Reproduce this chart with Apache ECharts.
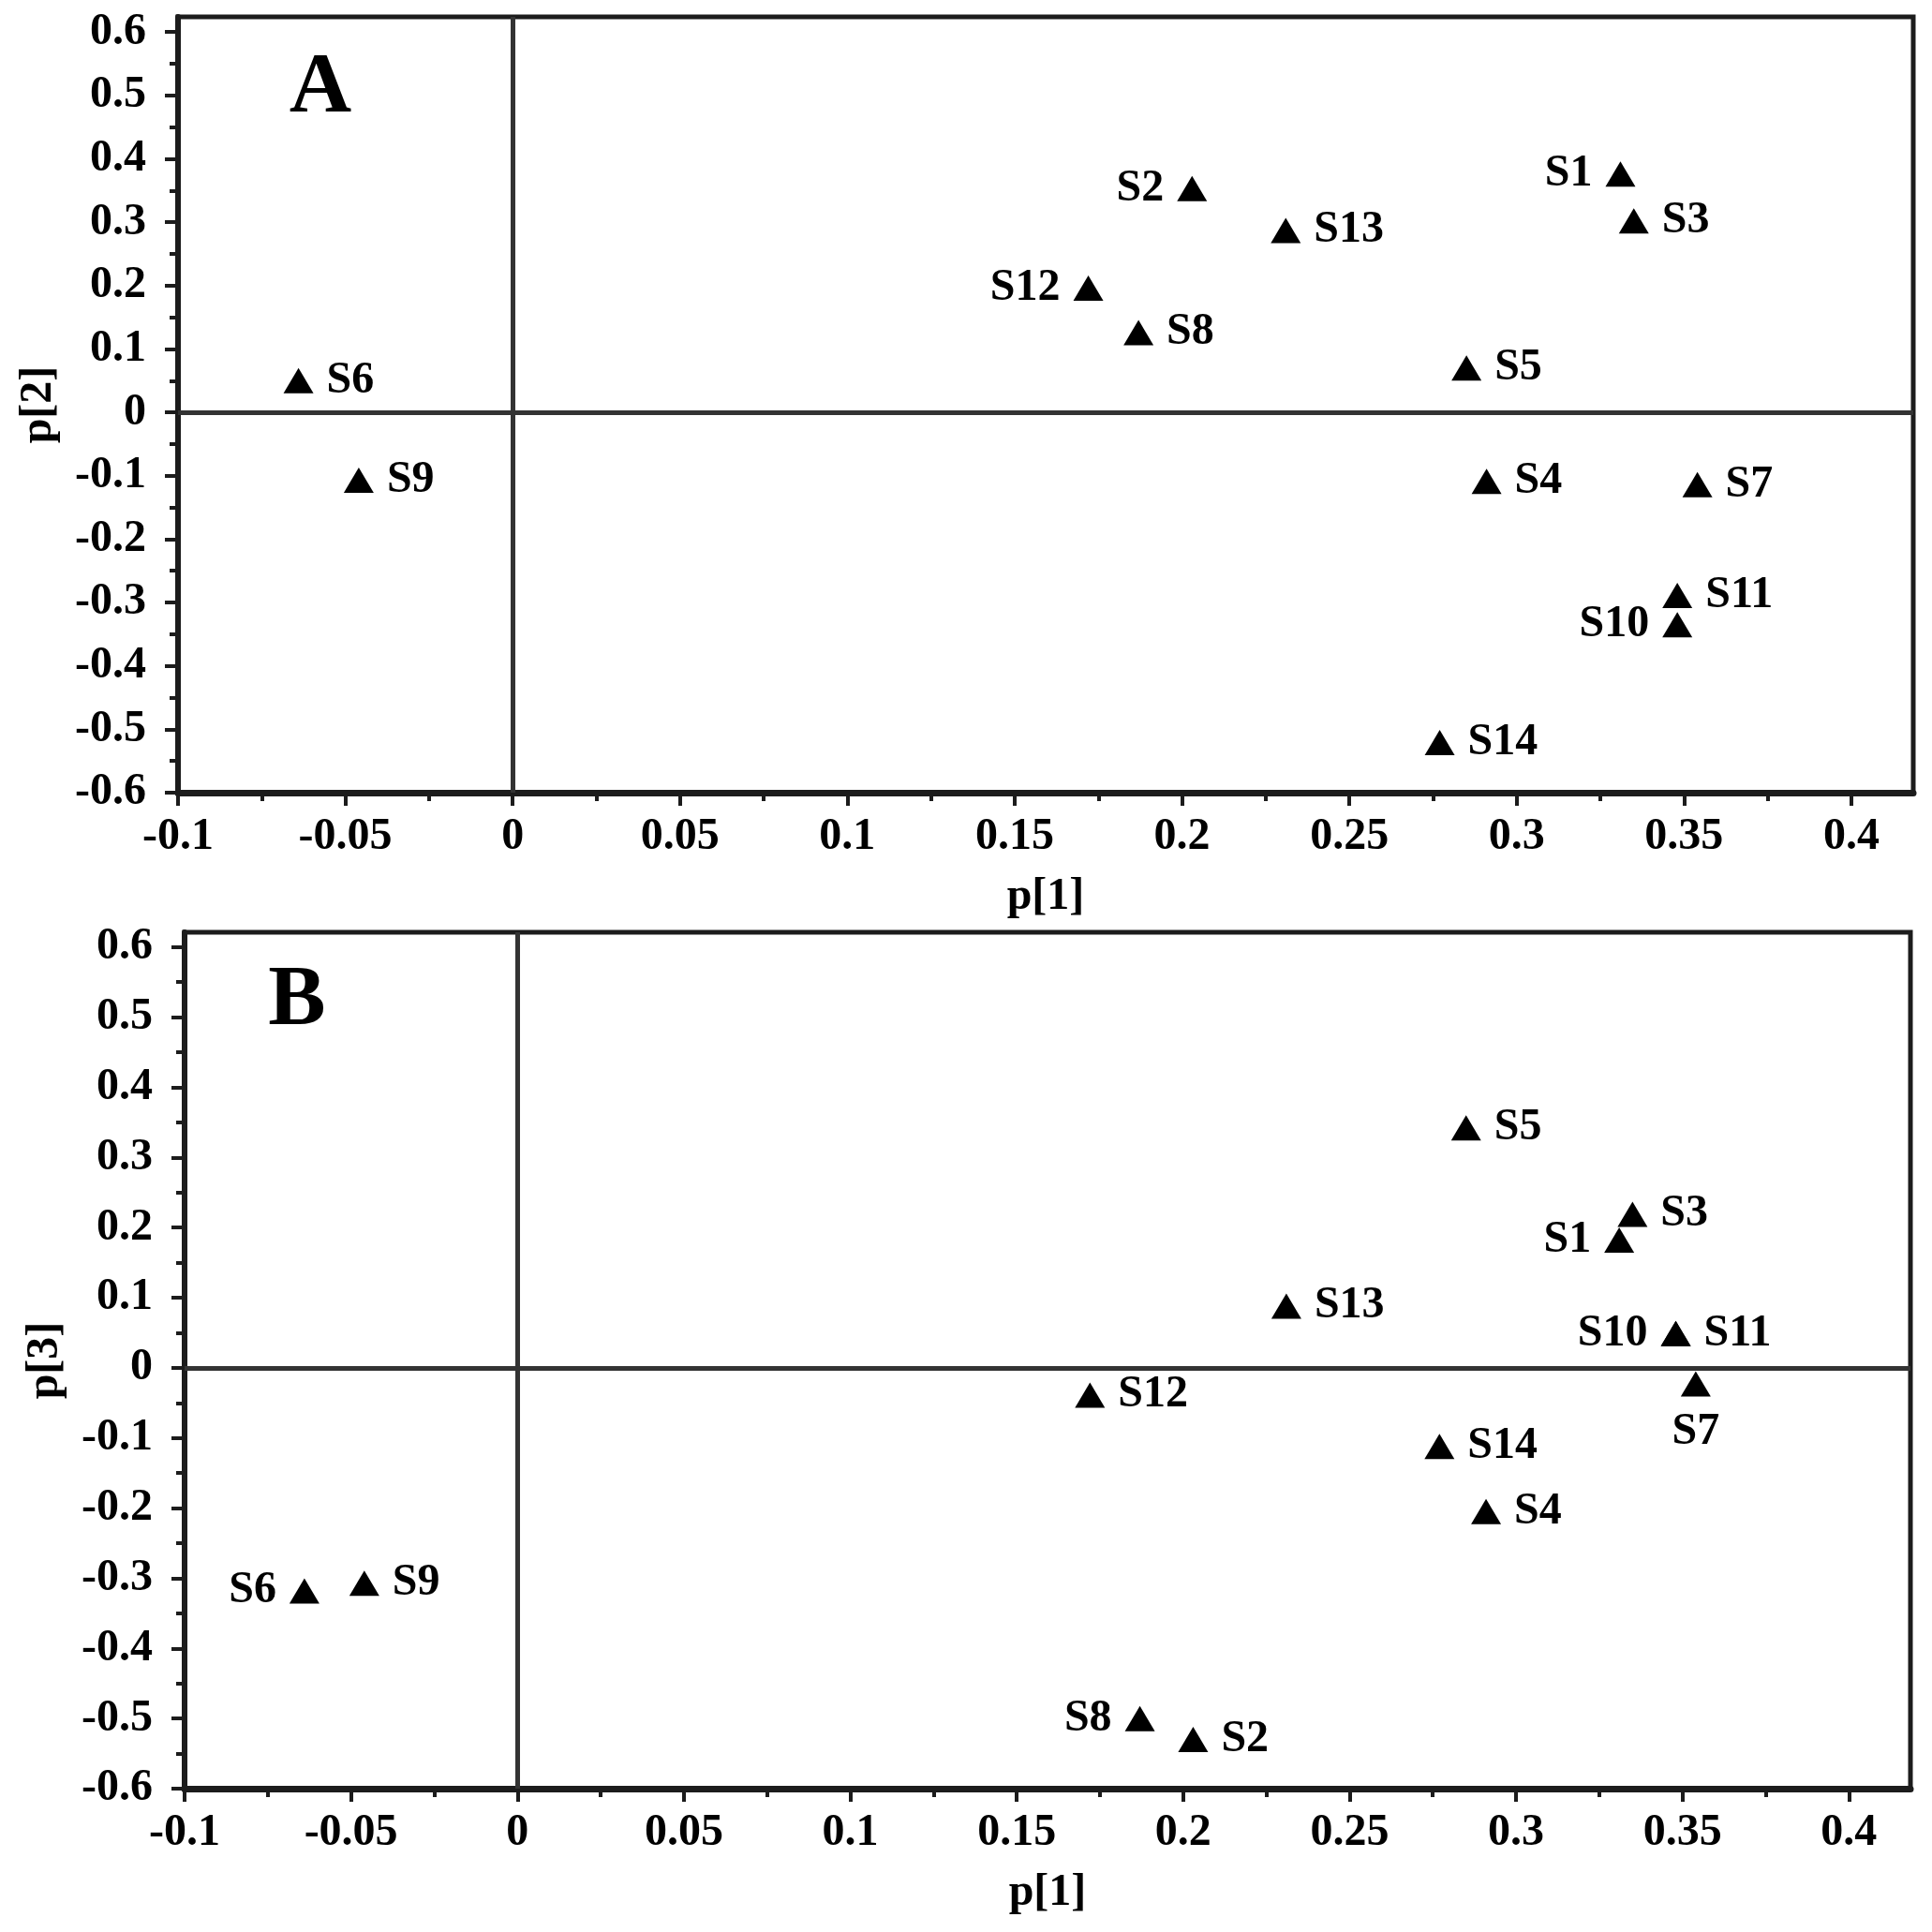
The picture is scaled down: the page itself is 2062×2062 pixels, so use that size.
<!DOCTYPE html>
<html>
<head>
<meta charset="utf-8">
<title>PCA loadings p[1]/p[2], p[1]/p[3]</title>
<script src="https://cdn.jsdelivr.net/npm/echarts/dist/echarts.min.js"></script>
<style>
  html, body { margin: 0; padding: 0; background: #fff; }
  #chart { width: 2062px; height: 2062px; }
</style>
</head>
<body>
<div id="chart"></div>
<script>
// sample names and loadings
var names = ['S1', 'S2', 'S3', 'S4', 'S5', 'S6', 'S7', 'S8', 'S9', 'S10', 'S11', 'S12', 'S13', 'S14'];
var p1 = [0.331, 0.203, 0.335, 0.291, 0.285, -0.064, 0.354, 0.187, -0.046, 0.348, 0.348, 0.172, 0.231, 0.277];
var p2 = [0.376, 0.353, 0.302, -0.109, 0.070, 0.050, -0.114, 0.126, -0.107, -0.335, -0.289, 0.196, 0.287, -0.521];
var p3 = [0.182, -0.530, 0.219, -0.205, 0.342, -0.318, -0.023, -0.500, -0.307, 0.049, 0.049, -0.039, 0.088, -0.112];

// tick values
var xMajor = [-0.1, -0.05, 0, 0.05, 0.1, 0.15, 0.2, 0.25, 0.3, 0.35, 0.4];
var xMinor = [-0.075, -0.025, 0.025, 0.075, 0.125, 0.175, 0.225, 0.275, 0.325, 0.375];
var yMajor = [-0.6, -0.5, -0.4, -0.3, -0.2, -0.1, 0, 0.1, 0.2, 0.3, 0.4, 0.5, 0.6];
var yMinor = [-0.55, -0.45, -0.35, -0.25, -0.15, -0.05, 0.05, 0.15, 0.25, 0.35, 0.45, 0.55];

// where each point label sits in panel A / panel B
var labelPosA = ['left', 'left', 'right', 'right', 'right', 'right', 'right', 'right', 'right', 'left', 'right', 'left', 'right', 'right'];
var labelPosB = ['left', 'right', 'right', 'right', 'right', 'left', 'bottom', 'left', 'right', 'left', 'right', 'right', 'right', 'right'];

var FONT = '"Liberation Serif", "Times New Roman", serif';
var INK = '#1c1c1c';
var textStyle = { fontFamily: FONT, fontWeight: 'bold', fontSize: 48, color: '#000' };

function fmt(v) {
    return String(+v.toFixed(3));
}

function majorX(grid, name) {
    return {
        type: 'value', gridIndex: grid, position: 'bottom',
        min: -0.1, max: 0.4185,
        name: name, nameLocation: 'middle', nameGap: 88, nameTextStyle: textStyle,
        axisLine: { show: true, onZero: false, lineStyle: { color: INK, width: 7 } },
        axisTick: { show: true, length: 14, customValues: xMajor, lineStyle: { color: INK, width: 4 } },
        axisLabel: Object.assign({ margin: 24, customValues: xMajor, formatter: fmt }, textStyle),
        splitLine: { show: false }
    };
}

function minorX(grid) {
    return {
        type: 'value', gridIndex: grid, position: 'bottom',
        min: -0.1, max: 0.4185,
        axisLine: { show: false, onZero: false },
        axisTick: { show: true, length: 9, customValues: xMinor, lineStyle: { color: INK, width: 4 } },
        axisLabel: { show: false },
        splitLine: { show: false }
    };
}

function majorY(grid, name, max) {
    return {
        type: 'value', gridIndex: grid, position: 'left',
        min: -0.6, max: max,
        name: name, nameLocation: 'middle', nameGap: 124, nameTextStyle: textStyle,
        axisLine: { show: true, onZero: false, lineStyle: { color: INK, width: 6 } },
        axisTick: { show: true, length: 14, customValues: yMajor, lineStyle: { color: INK, width: 4 } },
        axisLabel: Object.assign({ margin: 34, customValues: yMajor, formatter: fmt }, textStyle),
        splitLine: { show: false }
    };
}

function minorY(grid, max) {
    return {
        type: 'value', gridIndex: grid, position: 'left',
        min: -0.6, max: max,
        axisLine: { show: false, onZero: false },
        axisTick: { show: true, length: 9, customValues: yMinor, lineStyle: { color: INK, width: 4 } },
        axisLabel: { show: false },
        splitLine: { show: false }
    };
}

function buildPoints(ys, positions) {
    return names.map(function (n, i) {
        return {
            name: n,
            value: [p1[i], ys[i]],
            label: { position: positions[i] }
        };
    });
}

function scatter(xi, yi, data) {
    return {
        type: 'scatter',
        xAxisIndex: xi, yAxisIndex: yi,
        symbol: 'triangle', symbolSize: [32, 27],
        itemStyle: { color: '#000', opacity: 1 },
        label: Object.assign({ show: true, distance: 14, formatter: '{b}' }, textStyle),
        // zero reference lines
        markLine: {
            silent: true, symbol: ['none', 'none'],
            label: { show: false },
            lineStyle: { type: 'solid', color: '#333', width: 5, opacity: 1 },
            data: [{ xAxis: 0 }, { yAxis: 0 }]
        },
        data: data
    };
}

var chart = echarts.init(document.getElementById('chart'));
chart.setOption({
    backgroundColor: '#fff',
    animation: false,
    grid: [
        { left: 190, right: 20, top: 18, height: 828, show: true, borderColor: INK, borderWidth: 5, backgroundColor: '#fff' },
        { left: 197, right: 23, top: 995, height: 914, show: true, borderColor: INK, borderWidth: 5, backgroundColor: '#fff' }
    ],
    xAxis: [majorX(0, 'p[1]'), minorX(0), majorX(1, 'p[1]'), minorX(1)],
    yAxis: [majorY(0, 'p[2]', 0.624), minorY(0, 0.624), majorY(1, 'p[3]', 0.621), minorY(1, 0.621)],
    graphic: [
        { type: 'text', x: 342, y: 95, style: { text: 'A', font: 'bold 92px "Liberation Serif"', fill: '#000', textAlign: 'center', textVerticalAlign: 'middle' } },
        { type: 'text', x: 317, y: 1069, style: { text: 'B', font: 'bold 92px "Liberation Serif"', fill: '#000', textAlign: 'center', textVerticalAlign: 'middle' } }
    ],
    series: [
        scatter(0, 0, buildPoints(p2, labelPosA)),
        scatter(2, 2, buildPoints(p3, labelPosB))
    ]
});
</script>
</body>
</html>
